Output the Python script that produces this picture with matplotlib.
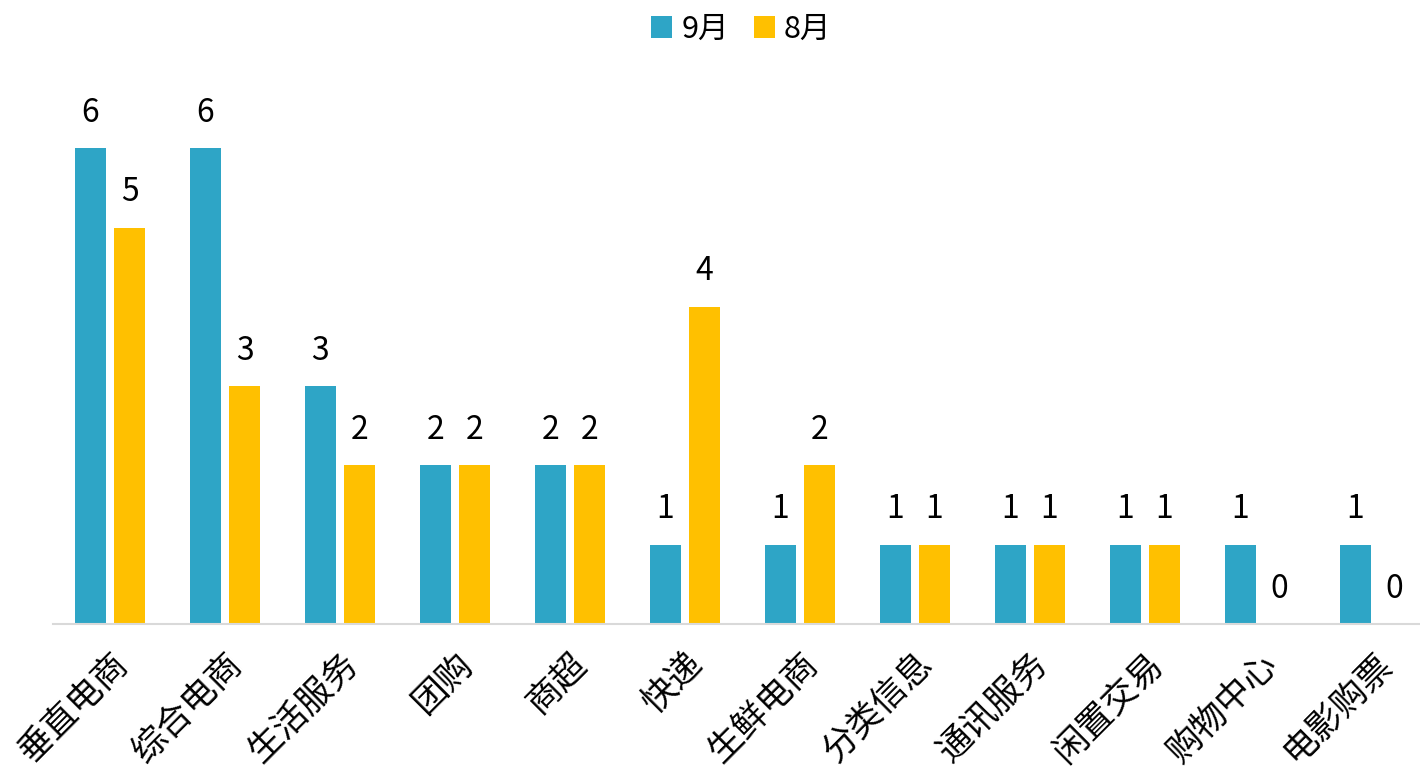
import matplotlib
matplotlib.use('Agg')
import matplotlib.pyplot as plt
import numpy as np

plt.rcParams['font.family'] = ['Noto Sans CJK SC', 'DejaVu Sans']

categories = ['垂直电商', '综合电商', '生活服务', '团购', '商超', '快递',
              '生鲜电商', '分类信息', '通讯服务', '闲置交易', '购物中心', '电影购票']
sep = [6, 6, 3, 2, 2, 1, 1, 1, 1, 1, 1, 1]
aug = [5, 3, 2, 2, 2, 4, 2, 1, 1, 1, 0, 0]
series_names = ['9月', '8月']

teal = '#2EA5C6'
gold = '#FFC000'

fig = plt.figure(figsize=(14.2, 7.66), dpi=100)
ax = fig.add_axes([52.5 / 1420, 142 / 766, 1380 / 1420, 555 / 766])

x = np.arange(len(categories))
w = 0.27
b1 = ax.bar(x - 0.17, sep, w, color=teal, label=series_names[0])
b2 = ax.bar(x + 0.17, aug, w, color=gold, label=series_names[1])
ax.bar_label(b1, padding=14, fontsize=23)
ax.bar_label(b2, padding=14, fontsize=23)

ax.set_xlim(-0.5, len(categories) - 0.5)
ax.set_ylim(0, 7)
ax.set_yticks([])
ax.set_xticks(x)
ax.set_xticklabels(categories, rotation=45, ha='right', va='top',
                   rotation_mode='anchor', fontsize=25)
ax.tick_params(axis='x', length=0, pad=16)
for s in ['top', 'right', 'left']:
    ax.spines[s].set_visible(False)
ax.spines['bottom'].set_color('#D9D9D9')
ax.spines['bottom'].set_linewidth(1.5)

fig.legend(loc='upper center', bbox_to_anchor=(0.522, 1.018), ncol=2, frameon=False,
           fontsize=22, handlelength=0.7, handleheight=0.7, handletextpad=0.3,
           columnspacing=0.8)

fig.savefig('out.png', dpi=100)
